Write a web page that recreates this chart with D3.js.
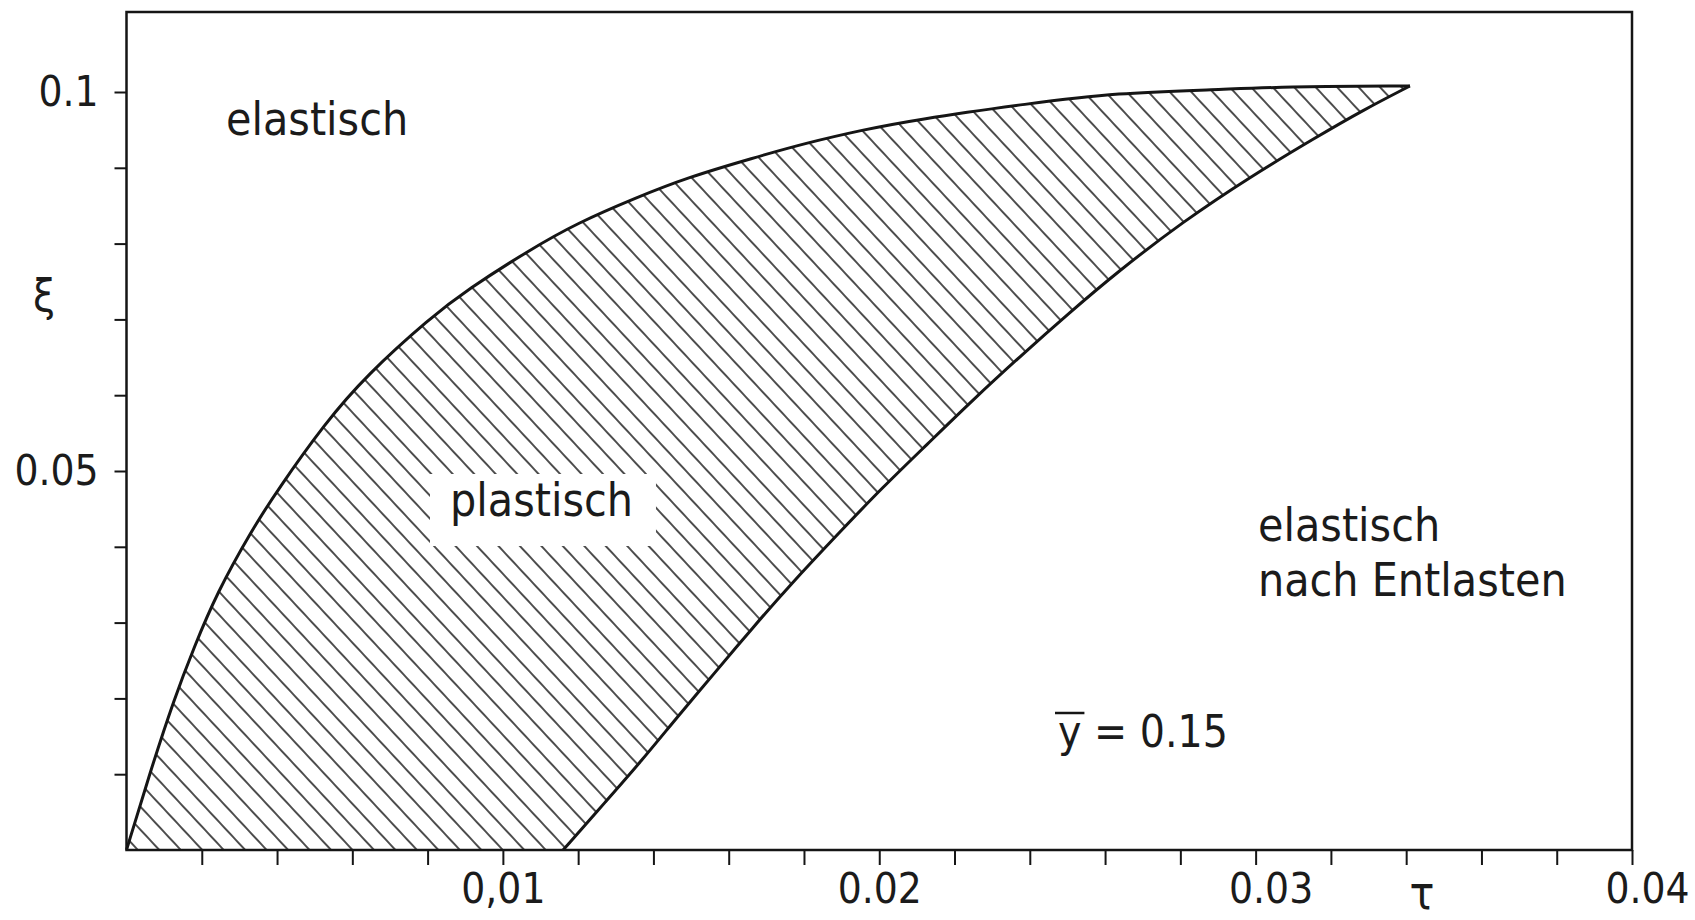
<!DOCTYPE html>
<html>
<head>
<meta charset="utf-8">
<script src="https://cdn.jsdelivr.net/npm/d3@7"></script>
<style>
  html, body { margin: 0; padding: 0; background: #ffffff; }
  svg { display: block; }
  text {
    font-family: "DejaVu Sans Condensed", "DejaVu Sans", sans-serif;
    font-stretch: condensed;
    fill: #1b1b1b;
  }
</style>
</head>
<body>
<svg id="chart" width="1695" height="920"></svg>
<script>
// Boundary between elastic and plastic behaviour, y-bar = 0.15
// Upper boundary of the plastic zone (tau, xi)
const tauUpper = [0, 0.00061, 0.00127, 0.00180, 0.00240, 0.00333, 0.00400, 0.00527, 0.00639,
                  0.00807, 0.00905, 0.01072, 0.01197, 0.01356, 0.01489, 0.01665, 0.01808,
                  0.01957, 0.02090, 0.02400, 0.02631, 0.02897, 0.03072, 0.03410];
const xiUpper  = [0, 0.0100, 0.0200, 0.0268, 0.0339, 0.0422, 0.0474, 0.0563, 0.0627,
                  0.0702, 0.0739, 0.0792, 0.0827, 0.0861, 0.0887, 0.0913, 0.0933,
                  0.0950, 0.0963, 0.0985, 0.0999, 0.1003, 0.1007, 0.1008];

// Lower boundary (elastic after unloading)
const tauLower = [0.01160, 0.01277, 0.01364, 0.01471, 0.01560, 0.01665, 0.01760, 0.01896,
                  0.02010, 0.02127, 0.02249, 0.02385, 0.02499, 0.02631, 0.02807, 0.02985,
                  0.03163, 0.03285, 0.03410];
const xiLower  = [0, 0.0066, 0.0115, 0.0180, 0.0232, 0.0294, 0.0348, 0.0420,
                  0.0479, 0.0535, 0.0594, 0.0656, 0.0706, 0.0762, 0.0829, 0.0888,
                  0.0941, 0.0976, 0.1008];

// Axis ticks and labels
const xMinorTicks = d3.range(1, 21).map(i => +(i * 0.002).toFixed(3));
const xLabelValues = [0.01, 0.02, 0.03, 0.04];
const xLabelTexts  = ["0,01", "0.02", "0.03", "0.04"];
const yMinorTicks = d3.range(1, 11).map(i => +(i * 0.01).toFixed(2));
const yLabelValues = [0.05, 0.1];
const yLabelTexts  = ["0.05", "0.1"];

// Layout
const frame = { left: 126.5, right: 1632, top: 12, bottom: 850 };
const svg = d3.select("#chart");
const ink = "#151515";

const x = d3.scaleLinear().domain([0, 0.04]).range([frame.left, frame.right]);
const y = d3.scaleLinear().domain([0, 0.1]).range([frame.bottom, 92]);

const upper = tauUpper.map((t, i) => [t, xiUpper[i]]);
const lower = tauLower.map((t, i) => [t, xiLower[i]]);

const line = d3.line()
  .x(d => x(d[0]))
  .y(d => y(d[1]))
  .curve(d3.curveBasis);

// Hatch pattern
const defs = svg.append("defs");
const hatch = defs.append("pattern")
  .attr("id", "hatch")
  .attr("patternUnits", "userSpaceOnUse")
  .attr("width", 15.7)
  .attr("height", 15.7)
  .attr("patternTransform", "rotate(-43)");
hatch.append("line")
  .attr("x1", 7.85).attr("y1", -2)
  .attr("x2", 7.85).attr("y2", 17.7)
  .attr("stroke", ink)
  .attr("stroke-width", 1.5);

// Plastic zone: upper boundary out, lower boundary back, closed along the axis
const upperPath = line(upper);
const lowerBack = line(lower.slice().reverse()).replace(/^M/, "L");
svg.append("path")
  .attr("d", upperPath + lowerBack + "Z")
  .attr("fill", "url(#hatch)")
  .attr("stroke", "none");

// Zone label on a blank field cut out of the hatching
const knockout = svg.append("rect").attr("fill", "#fff");
const plastText = svg.append("text")
  .style("font-size", "46px")
  .attr("x", 450).attr("y", 516)
  .text("plastisch");
const pb = plastText.node().getBBox();
knockout
  .attr("x", pb.x - 20)
  .attr("y", pb.y + 1)
  .attr("width", pb.width + 43)
  .attr("height", pb.height + 18);

// Boundary curves
[upper, lower].forEach(pts => {
  svg.append("path")
    .attr("d", line(pts))
    .attr("fill", "none")
    .attr("stroke", ink)
    .attr("stroke-width", 3)
    .attr("stroke-linejoin", "round");
});

// Frame
svg.append("rect")
  .attr("x", frame.left).attr("y", frame.top)
  .attr("width", frame.right - frame.left)
  .attr("height", frame.bottom - frame.top)
  .attr("fill", "none")
  .attr("stroke", ink)
  .attr("stroke-width", 2.5);

// Axes
const labelFor = (vals, texts) => v => {
  const i = vals.findIndex(u => Math.abs(u - v) < 1e-9);
  return i >= 0 ? texts[i] : "";
};

const xAxis = d3.axisBottom(x)
  .tickValues(xMinorTicks)
  .tickSize(15)
  .tickPadding(8)
  .tickFormat(labelFor(xLabelValues, xLabelTexts));
const gx = svg.append("g")
  .attr("transform", `translate(0,${frame.bottom})`)
  .call(xAxis);

const yAxis = d3.axisLeft(y)
  .tickValues(yMinorTicks)
  .tickSize(12)
  .tickPadding(16)
  .tickFormat(labelFor(yLabelValues, yLabelTexts));
const gy = svg.append("g")
  .attr("transform", `translate(${frame.left},0)`)
  .call(yAxis);

[gx, gy].forEach(g => {
  g.attr("font-size", null).attr("font-family", null);
  g.select(".domain").remove();
  g.selectAll(".tick line").attr("stroke", ink).attr("stroke-width", 2);
  g.selectAll(".tick text").style("font-size", "42px").attr("fill", ink);
});
// the outer labels sit a little right of their ticks
gx.selectAll(".tick text").attr("dx", v => (v > 0.025 ? 15 : 0));

// Axis titles
svg.append("text")
  .attr("x", 44).attr("y", 311)
  .attr("text-anchor", "middle")
  .style("font-size", "44px")
  .text("ξ");
svg.append("text")
  .attr("x", 1422).attr("y", 909)
  .attr("text-anchor", "middle")
  .style("font-size", "46px")
  .text("τ");

// Region labels
const labelStyle = sel => sel.style("font-size", "46px");
svg.append("text").call(labelStyle)
  .attr("x", 226).attr("y", 135)
  .text("elastisch");
const unload = svg.append("text").call(labelStyle)
  .attr("x", 1258).attr("y", 541);
unload.append("tspan").attr("x", 1258).attr("dy", 0).text("elastisch");
unload.append("tspan").attr("x", 1258).attr("dy", 55).text("nach Entlasten");

// Parameter note: y-bar = 0.15
const note = svg.append("text")
  .attr("x", 1058).attr("y", 747)
  .style("font-size", "44px");
const ySym = note.append("tspan").text("y");
note.append("tspan").text(" = 0.15");
const yb = ySym.node().getExtentOfChar(0);
svg.append("line")
  .attr("x1", yb.x - 3).attr("x2", yb.x + yb.width + 3)
  .attr("y1", 713).attr("y2", 713)
  .attr("stroke", ink)
  .attr("stroke-width", 2.5);
</script>
</body>
</html>
